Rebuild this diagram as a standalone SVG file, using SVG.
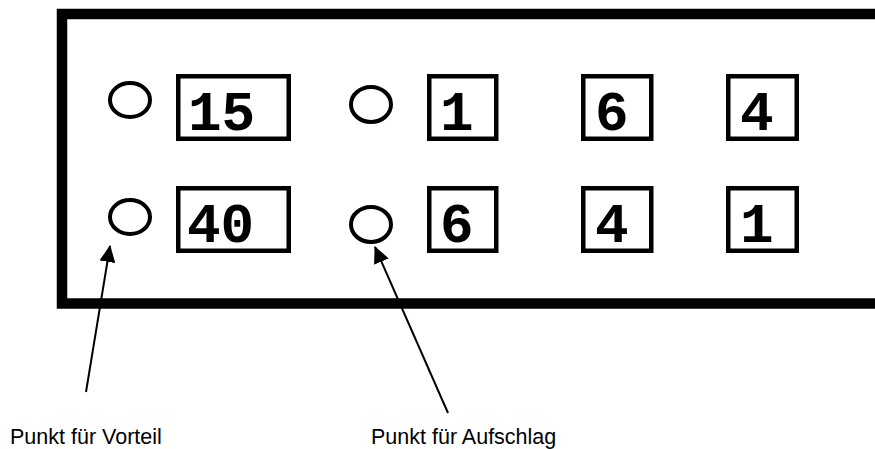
<svg xmlns="http://www.w3.org/2000/svg" width="875" height="449" viewBox="0 0 875 449">
<style>
.frame{fill:none;stroke:#000;stroke-width:10.5;stroke-linejoin:miter}
.box{fill:#fff;stroke:#000;stroke-width:4.5}
.dot{fill:none;stroke:#000;stroke-width:4}
.num{font-family:"Liberation Mono","Courier New",monospace;font-weight:bold;font-size:56px;fill:#000}
.lbl{font-family:"Liberation Sans",Arial,sans-serif;font-size:21.5px;fill:#000}
.conn{stroke:#000;stroke-width:2;fill:none}
</style>
<defs>
<marker id="ah" markerUnits="userSpaceOnUse" viewBox="0 0 17 16" refX="16" refY="8" markerWidth="17" markerHeight="16" orient="auto">
<path d="M0,0 L17,8 L0,16 Z" fill="#000"/>
</marker>
</defs>
<rect width="875" height="449" fill="#fff"/>
<path class="frame" d="M885,14 H62 V303.5 H885"/>
<g id="point-top-1"><ellipse class="dot" cx="130" cy="100" rx="20" ry="17"/></g>
<g id="score-15"><rect class="box" x="178.25" y="76.25" width="110.5" height="62.5"/><text class="num" x="188" y="130">15</text></g>
<g id="point-top-2"><ellipse class="dot" cx="371" cy="104.5" rx="20" ry="17.5"/></g>
<g id="set-top-1"><rect class="box" x="429.25" y="76.25" width="67" height="62.5"/><text class="num" x="440" y="130">1</text></g>
<g id="set-top-2"><rect class="box" x="583.25" y="76.25" width="68" height="62.5"/><text class="num" x="595" y="130">6</text></g>
<g id="set-top-3"><rect class="box" x="728.25" y="76.25" width="68.5" height="62.5"/><text class="num" x="740" y="130">4</text></g>
<g id="point-bot-1"><ellipse class="dot" cx="130" cy="217" rx="20" ry="17"/></g>
<g id="score-40"><rect class="box" x="178.25" y="188.25" width="110.5" height="62.5"/><text class="num" x="187" y="242">40</text></g>
<g id="point-bot-2"><ellipse class="dot" cx="371" cy="224.5" rx="20" ry="17.5"/></g>
<g id="set-bot-1"><rect class="box" x="429.25" y="188.25" width="67" height="62.5"/><text class="num" x="440" y="242">6</text></g>
<g id="set-bot-2"><rect class="box" x="583.25" y="188.25" width="68" height="62.5"/><text class="num" x="595" y="242">4</text></g>
<g id="set-bot-3"><rect class="box" x="728.25" y="188.25" width="68.5" height="62.5"/><text class="num" x="740" y="242">1</text></g>
<g id="connectors">
<line class="conn" x1="86" y1="392" x2="110" y2="246" marker-end="url(#ah)"/>
<line class="conn" x1="448" y1="413" x2="375" y2="247" marker-end="url(#ah)"/>
</g>
<g id="label-vorteil"><text class="lbl" x="10" y="444">Punkt für Vorteil</text></g>
<g id="label-aufschlag"><text class="lbl" x="371" y="444">Punkt für Aufschlag</text></g>
</svg>
